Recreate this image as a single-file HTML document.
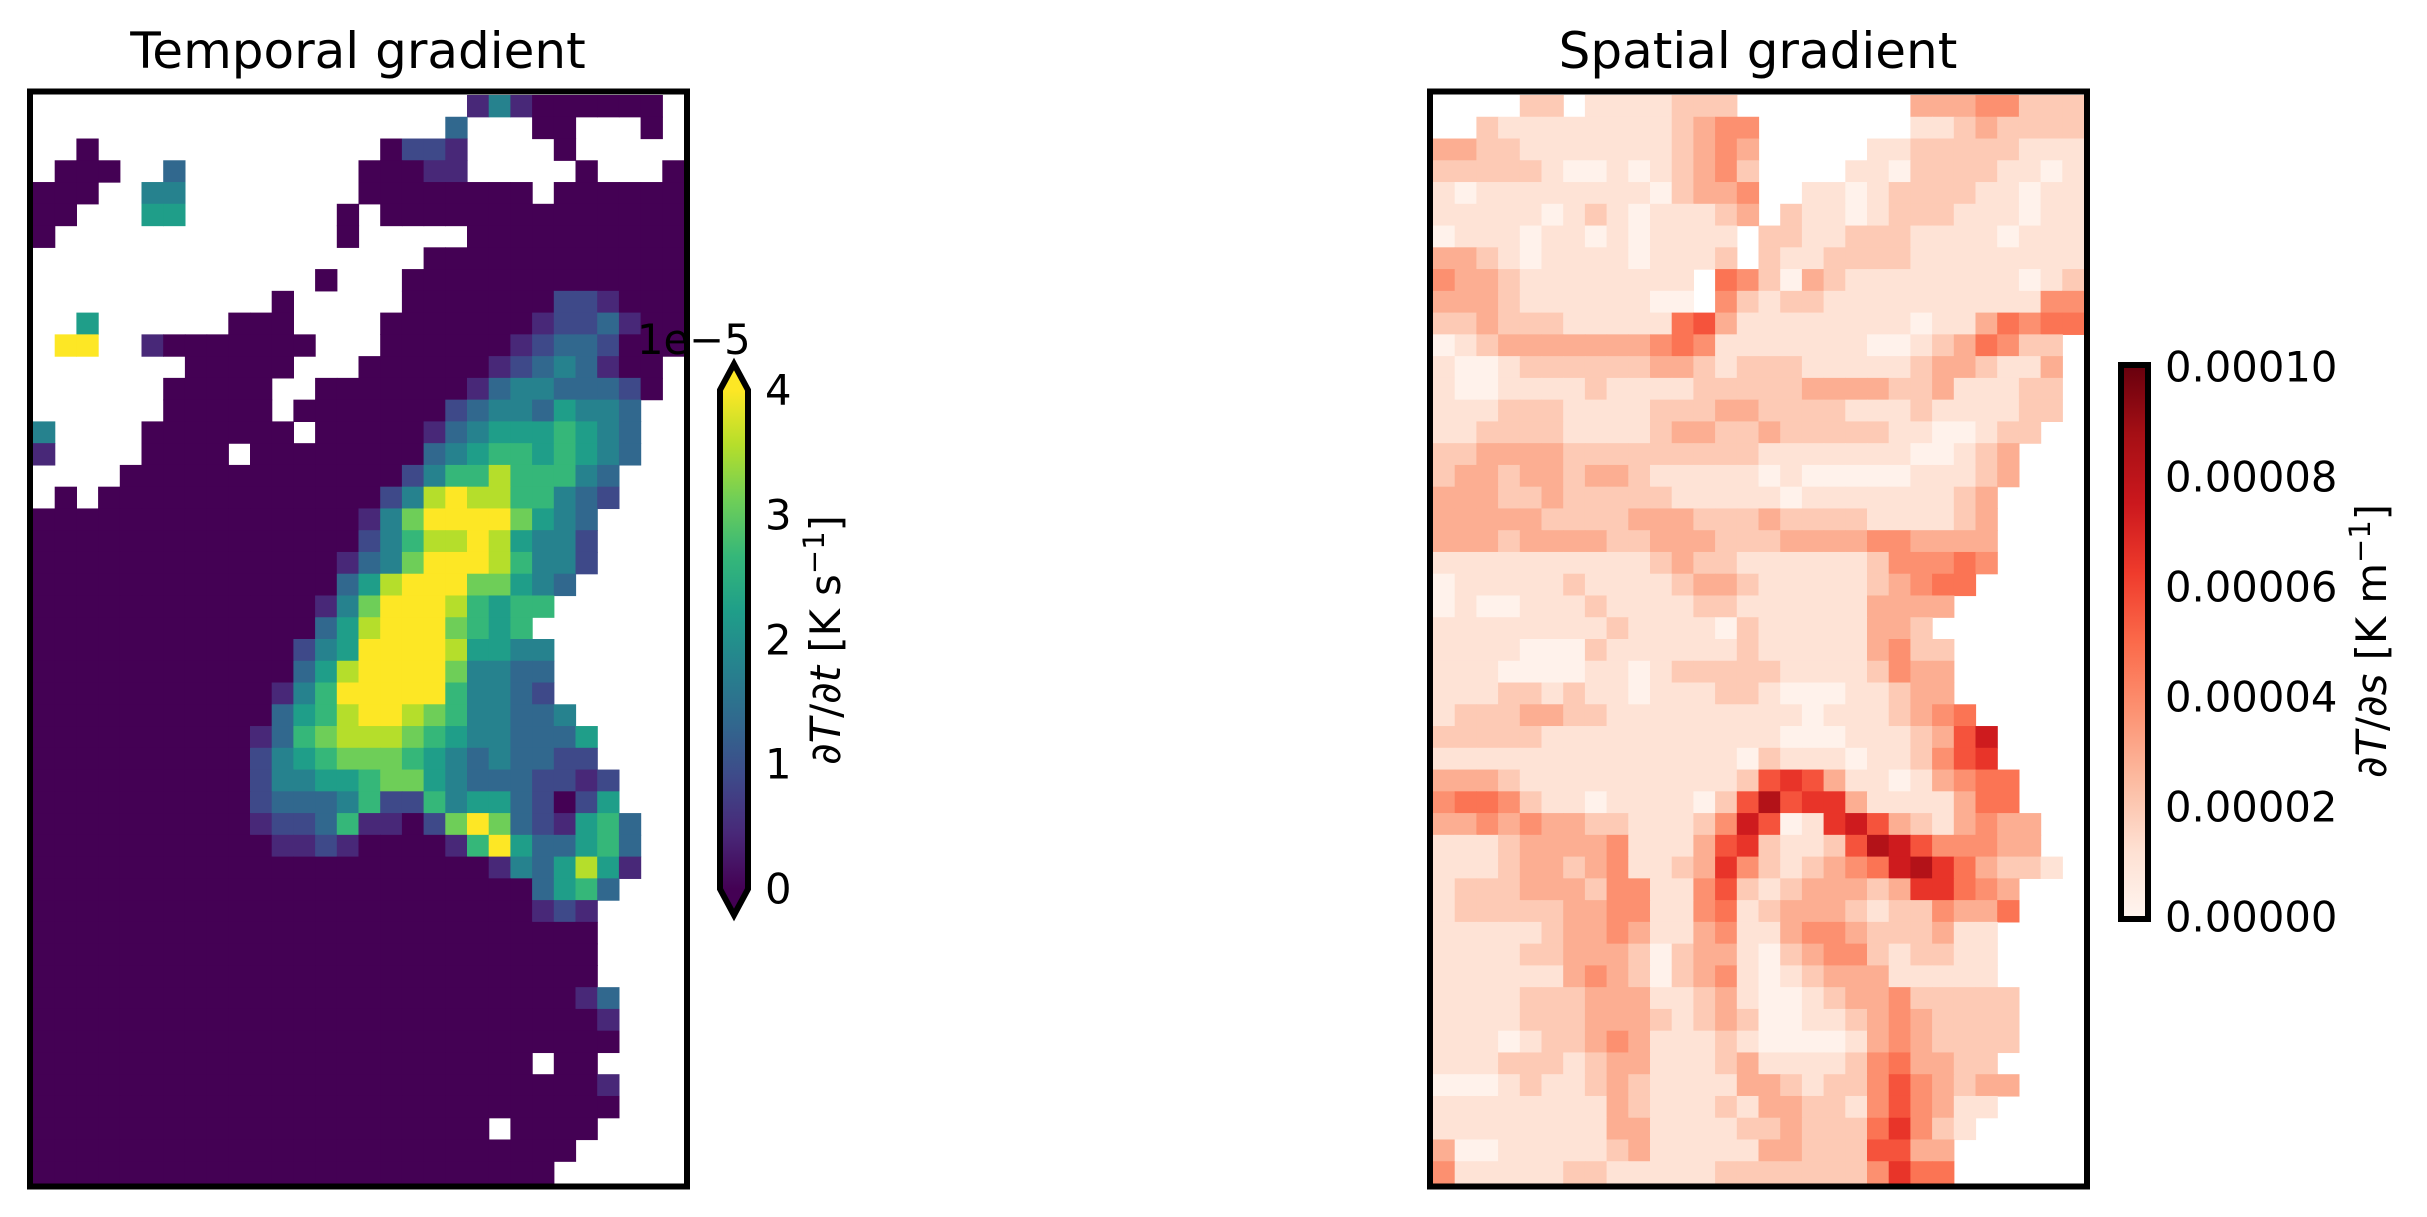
<!DOCTYPE html>
<html><head><meta charset="utf-8">
<style>
html,body{margin:0;padding:0;background:#fff;width:2427px;height:1217px;overflow:hidden}
svg text{font-family:"DejaVu Sans","Liberation Sans",sans-serif;fill:#000}
</style></head>
<body>
<svg id="s" width="2427" height="1217" viewBox="0 0 2427 1217" xmlns="http://www.w3.org/2000/svg">
<defs>
<linearGradient id="vir" x1="0" y1="1" x2="0" y2="0">
<stop offset="0" stop-color="#440154"/><stop offset="0.111" stop-color="#482878"/><stop offset="0.222" stop-color="#3e4989"/><stop offset="0.333" stop-color="#31688e"/><stop offset="0.444" stop-color="#26828e"/><stop offset="0.556" stop-color="#1f9e89"/><stop offset="0.667" stop-color="#35b779"/><stop offset="0.778" stop-color="#6ece58"/><stop offset="0.889" stop-color="#b5de2b"/><stop offset="1" stop-color="#fde725"/>
</linearGradient>
<linearGradient id="reds" x1="0" y1="1" x2="0" y2="0">
<stop offset="0" stop-color="#fff5f0"/><stop offset="0.125" stop-color="#fee0d2"/><stop offset="0.25" stop-color="#fcbba1"/><stop offset="0.375" stop-color="#fc9272"/><stop offset="0.5" stop-color="#fb6a4a"/><stop offset="0.625" stop-color="#ef3b2c"/><stop offset="0.75" stop-color="#cb181d"/><stop offset="0.875" stop-color="#a50f15"/><stop offset="1" stop-color="#67000d"/>
</linearGradient>
</defs>
<g id="L"></g>
<g id="R"></g>
<rect x="30" y="91.5" width="657" height="1095" fill="none" stroke="#000" stroke-width="6"/>
<rect x="1430" y="91.5" width="657" height="1095" fill="none" stroke="#000" stroke-width="6"/>
<text x="358" y="68" font-size="50" text-anchor="middle">Temporal gradient</text>
<text x="1758" y="68" font-size="50" text-anchor="middle">Spatial gradient</text>
<rect x="720" y="390" width="28" height="499" fill="url(#vir)"/>
<polygon points="734,364 720,390 748,390" fill="#fde725"/>
<polygon points="720,889 748,889 734,915" fill="#440154"/>
<polygon points="734,364 748,390 748,889 734,915 720,889 720,390" fill="none" stroke="#000" stroke-width="6" stroke-linejoin="miter"/>
<g font-size="41.7" dominant-baseline="central">
<text x="765" y="390">4</text><text x="765" y="515">3</text><text x="765" y="640">2</text><text x="765" y="764">1</text><text x="765" y="889">0</text>
</g>
<text x="637" y="354" font-size="41.7">1e−5</text>
<text transform="translate(840,640) rotate(-90)" font-size="41.7" text-anchor="middle">∂<tspan font-style="italic">T</tspan>/∂<tspan font-style="italic">t</tspan> [K s<tspan font-size="29" dy="-16">−1</tspan><tspan dy="16">]</tspan></text>
<rect x="2121" y="365" width="27" height="554" fill="url(#reds)" stroke="#000" stroke-width="6"/>
<g font-size="41.7" dominant-baseline="central">
<text x="2165" y="367">0.00010</text><text x="2165" y="477">0.00008</text><text x="2165" y="587">0.00006</text><text x="2165" y="697">0.00004</text><text x="2165" y="807">0.00002</text><text x="2165" y="917">0.00000</text>
</g>
<text transform="translate(2386,641) rotate(-90)" font-size="41.7" text-anchor="middle">∂<tspan font-style="italic">T</tspan>/∂<tspan font-style="italic">s</tspan> [K m<tspan font-size="29" dy="-16">−1</tspan><tspan dy="16">]</tspan></text>
</svg>
<script>
function z(n){return '0'.repeat(n);} function d(n){return '.'.repeat(n);}
var Lrows=[
"....................141000000.",
"...................3...00...0.",
"..0.............0221....0.....",
".000..3........00011.....0...0",
"000..44........00000000.000000",
"00...55.......0.00000000000000",
"0.............0.....0000000000",
"..................000000000000",
".............0...0000000000000",
"...........0.....0000000221000",
"..5......000....00000001223100",
".99..10000000...00000012332000",
".......00000...00000012343100.",
"......00000..0000000134433320.",
"......00000.0000000234435443..",
"4....0000000.000001345556543..",
"1....0000.000000003456656543..",
"....00000000000002466866643...",
".0.000000000000024898866432...",
"00000000000000014799997543....",
"00000000000000024688985442....",
"00000000000000134799986442....",
"0000000000000035899977543.....",
"000000000000014799986566......",
"00000000000003589997656.......",
"000000000000245999985544......",
"000000000000358999974433......",
"000000000001469999964432......",
"0000000000035689987644334.....",
"00000000001367888765443335....",
"00000000002456777654343322....",
"000000000024455677543332212...",
"000000000023334622645532025...",
"0000000000122361102797321563..",
"0000000000011210000169533563..",
"0000000000000000000001435851..",
"000000000000000000000003563...",
"00000000000000000000000121....",
z(26)+d(4),z(26)+d(4),z(26)+d(4),
z(25)+"13...",
z(26)+"1...",
z(27)+d(3),
z(23)+"."+"00"+d(4),
z(26)+"1...",
z(27)+d(3),
z(21)+"."+"0000"+d(4),
z(25)+d(5),
z(24)+d(6)];
var Rrows=[
"....22.1111222........33344222",
"..2111111112344.......11232222",
"332211111112343.....1122222111",
"222221001012342....11022221101",
"101111111102334..1101222211011",
"111110121011123.21101222111011",
"01110110101111.221122211110111",
"33210111101112.211222211111111",
"433211111111.54203211111111012",
"333211111100.42122111111111144",
"223222111115631111111101135455",
"01233333334541111111001235422.",
"10012222223321222111112332113.",
"10011112111122222333322311122.",
"11122211112223322221112111122.",
"1122221111233223222221100122..",
"222333322222222211111110012 3...".replace(' ','').slice(1),
"23323323321111101000001112 3...".replace(' ',''),
"3332232222211111011111112 3....".replace(' ',''),
"3333322223332223222211112 3....".replace(' ',''),
"3332333322333222333344333 3....".replace(' ',''),
"11111111112322111111244454....",
"0111112111123321111123455.....",
"01001112111122111111 3333......".replace(' ',''),
"1111111121111021111133 2.......".replace(' ',''),
"11110002111111211111342 2......".replace(' ',''),
"11100001101222221111243 3......".replace(' ',''),
"11122121101112210001123 3......".replace(' ',''),
"122233221111111110111234 5.....".replace(' ',''),
"2222211111111111000111236 8....".replace(' ',''),
"1111111111111102111011246 7....".replace(' ',''),
"33321111111111267631101345 5...".replace(' ',''),
"45542110111102696773111135 5...".replace(' ',''),
"334343322111248601786321343 3..".replace(' ',''),
"111233334111367211269864443 3..".replace(' ',''),
"1112332341123742123458975322 1.".replace(' ',''),
"12223332441146212333237754 3...".replace(' ',''),
"12222233441145123332122433 5...".replace(' ',''),
"1111123343113411344322231 1....".replace(' ',''),
"1111223332023310234421221 1....".replace(' ',''),
"1111113432023410123331111 1....".replace(' ',''),
"11112223331123100123342222 2...".replace(' ',''),
"11112223332123200112343222 2...".replace(' ',''),
"11101223431112100001343222 2...".replace(' ',''),
"1112221233111231111245332 2....".replace(' ',''),
"00012112321111332122464323 3...".replace(' ',''),
"1111111132111213322146431 1....".replace(' ',''),
"111111113311112232225742 1.....".replace(' ',''),
"30011111231111133222663 3......".replace(' ',''),
"41111122111112222222475 5......".replace(' ','')];
function hex(h){return [parseInt(h.substr(1,2),16),parseInt(h.substr(3,2),16),parseInt(h.substr(5,2),16)];}
function interp(stops,t){t=Math.max(0,Math.min(1,t));var n=stops.length-1,f=t*n,i=Math.min(n-1,Math.floor(f)),u=f-i;var a=hex(stops[i]),b=hex(stops[i+1]);return 'rgb('+a.map(function(v,k){return Math.round(v+(b[k]-v)*u)}).join(',')+')';}
var VIR=["#440154","#482878","#3e4989","#31688e","#26828e","#1f9e89","#35b779","#6ece58","#b5de2b","#fde725"];
var RED=["#fff5f0","#fee0d2","#fcbba1","#fc9272","#fb6a4a","#ef3b2c","#cb181d","#a50f15","#67000d"];
function draw(id,rows,x0,y0,w,h,col){var g=document.getElementById(id),cw=w/30,ch=h/50,s='';
for(var r=0;r<50;r++){var row=rows[r]||'';for(var c=0;c<30;c++){var ch_=row.charAt(c);if(ch_===''||ch_==='.')continue;var L=parseInt(ch_,10);
s+='<rect x="'+(x0+c*cw).toFixed(2)+'" y="'+(y0+r*ch).toFixed(2)+'" width="'+(cw+0.6).toFixed(2)+'" height="'+(ch+0.6).toFixed(2)+'" fill="'+col(L)+'"/>';}}
g.innerHTML=s;}
draw('L',Lrows,33,95,651,1088,function(L){return interp(VIR,L/9);});
draw('R',Rrows,1433,95,651,1088,function(L){return interp(RED,0.02+0.09*L);});
</script>
</body></html>
